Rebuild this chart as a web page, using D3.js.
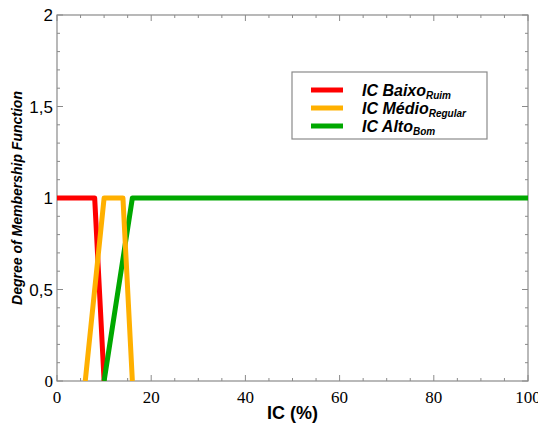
<!DOCTYPE html>
<html><head><meta charset="utf-8">
<script src="https://cdn.jsdelivr.net/npm/d3@7"></script>
<style>body{margin:0;background:#fff}</style>
</head><body>
<script>
const seriesNames = ["IC Baixo", "IC Médio", "IC Alto"];
const seriesSubs = ["Ruim", "Regular", "Bom"];
const seriesColors = ["#ff0000", "#ffb000", "#00a800"];
const baixoX = [0, 8, 10];
const baixoY = [1, 1, 0];
const medioX = [6, 10, 14, 16];
const medioY = [0, 1, 1, 0];
const altoX = [10, 16, 100];
const altoY = [0, 1, 1];
const xTicks = [0, 20, 40, 60, 80, 100];
const yTicks = [0, 0.5, 1, 1.5, 2];
const yTickLabels = ["0", "0,5", "1", "1,5", "2"];

const W = 538, H = 432;
const m = {l: 57, r: 10, t: 15, b: 51};
const svg = d3.select("body").append("svg").attr("width", W).attr("height", H);
const x = d3.scaleLinear().domain([0, 100]).range([m.l, W - m.r]);
const y = d3.scaleLinear().domain([0, 2]).range([H - m.b, m.t]);
const frame = "#8a8a8a";

// minor/major ticks (inward) on all four sides
const g = svg.append("g").attr("stroke", frame).attr("stroke-width", 1);
d3.range(0, 101, 5).forEach(v => {
  const major = v % 20 === 0, len = major ? 6 : 3;
  g.append("line").attr("x1", x(v)).attr("x2", x(v)).attr("y1", y(0)).attr("y2", y(0) - len);
  g.append("line").attr("x1", x(v)).attr("x2", x(v)).attr("y1", y(2)).attr("y2", y(2) + len);
});
d3.range(0, 21, 1).forEach(i => {
  const v = i / 10, major = i % 5 === 0, len = major ? 6 : 3;
  g.append("line").attr("x1", x(0)).attr("x2", x(0) + len).attr("y1", y(v)).attr("y2", y(v));
  g.append("line").attr("x1", x(100)).attr("x2", x(100) - len).attr("y1", y(v)).attr("y2", y(v));
});
svg.append("rect").attr("x", x(0)).attr("y", y(2)).attr("width", x(100) - x(0)).attr("height", y(0) - y(2))
  .attr("fill", "none").attr("stroke", frame).attr("stroke-width", 1.2);

// axis labels
svg.append("g").selectAll("text").data(xTicks).join("text")
  .attr("x", d => x(d)).attr("y", y(0) + 22).attr("text-anchor", "middle")
  .attr("font-family", "Liberation Serif, serif").attr("font-size", 17).text(d => d);
svg.append("g").selectAll("text").data(yTicks).join("text")
  .attr("x", x(0) - 4).attr("y", d => y(d) + 6).attr("text-anchor", "end")
  .attr("font-family", (d, i) => i === 0 ? "Liberation Serif, serif" : "Liberation Sans, Arial, sans-serif")
  .attr("font-size", 17).text((d, i) => yTickLabels[i]);

svg.append("text").attr("x", (x(0) + x(100)) / 2).attr("y", 419).attr("text-anchor", "middle")
  .attr("font-family", "Liberation Sans, Arial, sans-serif").attr("font-weight", "bold").attr("font-size", 18)
  .text("IC (%)");
svg.append("text").attr("transform", `translate(22,${y(1)}) rotate(-90)`).attr("text-anchor", "middle")
  .attr("font-family", "Liberation Sans, Arial, sans-serif").attr("font-weight", "bold").attr("font-style", "italic")
  .attr("font-size", 14).text("Degree of Membership Function");

// lines
const line = d3.line().x(d => x(d[0])).y(d => y(d[1]));
const data = [d3.zip(baixoX, baixoY), d3.zip(medioX, medioY), d3.zip(altoX, altoY)];
const clip = svg.append("clipPath").attr("id", "c").append("rect")
  .attr("x", x(0)).attr("y", y(2)).attr("width", x(100) - x(0)).attr("height", y(0) - y(2));
const order = [0, 2, 1];
svg.append("g").attr("clip-path", "url(#c)").selectAll("path").data(order).join("path")
  .attr("d", i => line(data[i])).attr("fill", "none").attr("stroke", i => seriesColors[i])
  .attr("stroke-width", 5).attr("stroke-linejoin", "round");

// legend
const lg = svg.append("g");
lg.append("rect").attr("x", 292).attr("y", 72).attr("width", 195).attr("height", 67)
  .attr("fill", "#fff").attr("stroke", frame).attr("stroke-width", 1.2);
seriesNames.forEach((n, i) => {
  const yy = 90 + i * 18;
  lg.append("line").attr("x1", 311).attr("x2", 343).attr("y1", yy).attr("y2", yy)
    .attr("stroke", seriesColors[i]).attr("stroke-width", 5);
  const t = lg.append("text").attr("x", 362).attr("y", yy + 6)
    .attr("font-family", "Liberation Sans, Arial, sans-serif").attr("font-weight", "bold")
    .attr("font-style", "italic").attr("font-size", 16);
  t.append("tspan").text(n);
  t.append("tspan").attr("font-size", 10).attr("dy", 3).text(seriesSubs[i]);
});
</script>
</body></html>
